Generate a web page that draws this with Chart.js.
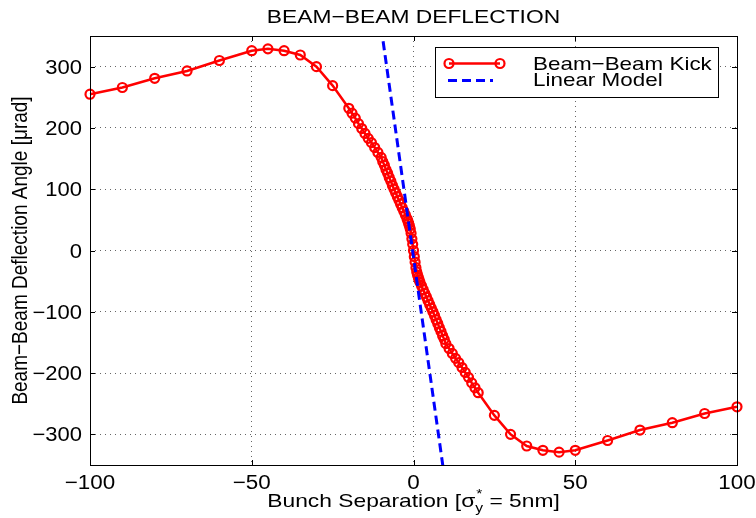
<!DOCTYPE html>
<html>
<head>
<meta charset="utf-8">
<script src="https://cdn.jsdelivr.net/npm/chart.js@4/dist/chart.umd.min.js"></script>
<style>
  html, body { margin: 0; padding: 0; background: #fff; }
</style>
</head>
<body>
<canvas id="deflexao" width="756" height="518"></canvas>
<script>
// separacao dos feixes (x) e angulo de deflexao em microrad (y)
const kickSep = [-100, -90, -80, -70, -60, -50, -45, -40, -35, -30, -25,
  -20, -19, -18, -17, -16, -15, -14, -13, -12, -11,
  -10, -9.5, -9, -8.5, -8, -7.5, -7, -6.5, -6, -5.5, -5, -4.5, -4, -3.5, -3, -2.5, -2,
  -1.75, -1.5, -1.25, -1, -0.75, -0.5, -0.25, 0, 0.25, 0.5, 0.75, 1, 1.25, 1.5, 1.75,
  2, 2.5, 3, 3.5, 4, 4.5, 5, 5.5, 6, 6.5, 7, 7.5, 8, 8.5, 9, 9.5, 10,
  11, 12, 13, 14, 15, 16, 17, 18, 19, 20,
  25, 30, 35, 40, 45, 50, 60, 70, 80, 90, 100];
const kickAngle = [255, 266, 281, 293, 310, 326, 329, 326, 319, 300, 269,
  232, 224, 216, 207, 199, 191, 183, 176, 168, 160,
  152, 145, 139, 132, 126, 119, 113, 106, 100, 94, 88, 82, 76, 70, 64, 58, 52,
  48, 44, 40, 35, 28, 19, 10, 0, -10, -19, -28, -35, -40, -44, -48,
  -52, -58, -64, -70, -76, -82, -88, -94, -100, -106, -113, -119, -126, -132, -139, -145, -152,
  -160, -168, -176, -183, -191, -199, -207, -216, -224, -232,
  -269, -300, -319, -326, -329, -326, -310, -293, -281, -266, -255];

// modelo linear
const linearSep = [-10, 10];
const linearAngle = [364, -386];

const sepTicks = [-100, -50, 0, 50, 100];
const angleTicks = [-300, -200, -100, 0, 100, 200, 300];

const titulo = 'BEAM\u2212BEAM DEFLECTION';
const legendas = ['Beam\u2212Beam Kick', 'Linear Model'];

const FONTE = '"Liberation Sans", Arial, Helvetica, sans-serif';
const ESTICA = 1.2; // texto mais largo, como no original

function pares(xs, ys) {
  return xs.map((x, i) => ({ x: x, y: ys[i] }));
}

function fmt(v) {
  return v < 0 ? '\u2212' + Math.abs(v) : String(v);
}

function texto(ctx, t, x, y, align, size, estica) {
  ctx.save();
  ctx.font = size + 'px ' + FONTE;
  ctx.translate(x, y);
  ctx.scale(estica || ESTICA, 1);
  ctx.textAlign = align;
  ctx.textBaseline = 'alphabetic';
  ctx.fillStyle = '#000';
  ctx.fillText(t, 0, 0);
  ctx.restore();
}

function largura(ctx, t, size) {
  ctx.save();
  ctx.font = size + 'px ' + FONTE;
  const w = ctx.measureText(t).width * ESTICA;
  ctx.restore();
  return w;
}

// moldura, marcas, rotulos e legenda no estilo matlab
const molduraPlugin = {
  id: 'moldura',
  afterDraw(chart) {
    const ctx = chart.ctx;
    const a = chart.chartArea;
    const xs = chart.scales.x;
    const ys = chart.scales.y;

    ctx.save();
    ctx.strokeStyle = '#000';
    ctx.lineWidth = 1;
    ctx.strokeRect(Math.round(a.left) + 0.5, Math.round(a.top) + 0.5,
      Math.round(a.right - a.left), Math.round(a.bottom - a.top));

    ctx.beginPath();
    sepTicks.forEach(v => {
      const px = Math.round(xs.getPixelForValue(v)) + 0.5;
      ctx.moveTo(px, a.bottom); ctx.lineTo(px, a.bottom - 5);
      ctx.moveTo(px, a.top); ctx.lineTo(px, a.top + 5);
    });
    angleTicks.forEach(v => {
      const py = Math.round(ys.getPixelForValue(v)) + 0.5;
      ctx.moveTo(a.left, py); ctx.lineTo(a.left + 5, py);
      ctx.moveTo(a.right, py); ctx.lineTo(a.right - 5, py);
    });
    ctx.stroke();
    ctx.restore();

    // rotulos dos eixos
    sepTicks.forEach(v => {
      texto(ctx, fmt(v), xs.getPixelForValue(v), a.bottom + 24, 'center', 20, 1.12);
    });
    angleTicks.forEach(v => {
      texto(ctx, fmt(v), a.left - 8, ys.getPixelForValue(v) + 7, 'right', 20, 1.1);
    });

    const cx = (a.left + a.right) / 2;
    texto(ctx, titulo, cx, 23, 'center', 19);

    // titulo do eixo x com sigma_y^*
    const p1 = 'Bunch Separation [\u03c3';
    const p2 = ' = 5nm]';
    const w1 = largura(ctx, p1, 19);
    const wy = largura(ctx, 'y', 13);
    const w2 = largura(ctx, p2, 19);
    let x0 = cx - (w1 + wy + w2) / 2;
    const base = 507;
    texto(ctx, p1, x0, base, 'left', 19);
    texto(ctx, 'y', x0 + w1, base + 5, 'left', 13);
    texto(ctx, '*', x0 + w1 + 1, base - 9, 'left', 13);
    texto(ctx, p2, x0 + w1 + wy, base, 'left', 19);

    // titulo do eixo y
    ctx.save();
    ctx.translate(27, (a.top + a.bottom) / 2);
    ctx.rotate(-Math.PI / 2);
    ctx.scale(1, ESTICA);
    ctx.font = '19px ' + FONTE;
    ctx.textAlign = 'center';
    ctx.fillStyle = '#000';
    ctx.fillText('Beam\u2212Beam Deflection Angle [\u03bcrad]', 0, 0);
    ctx.restore();

    // legenda
    const ds = chart.data.datasets;
    ctx.save();
    ctx.fillStyle = '#fff';
    ctx.fillRect(435, 47, 283, 50);
    ctx.strokeStyle = '#000';
    ctx.lineWidth = 1;
    ctx.strokeRect(435.5, 47.5, 283, 50);

    ctx.strokeStyle = ds[1].borderColor;
    ctx.lineWidth = ds[1].borderWidth;
    ctx.beginPath();
    ctx.moveTo(449, 63.5); ctx.lineTo(500, 63.5);
    ctx.stroke();
    ctx.lineWidth = ds[1].pointBorderWidth;
    [449, 500].forEach(px => {
      ctx.beginPath();
      ctx.arc(px, 63.5, ds[1].pointRadius, 0, Math.PI * 2);
      ctx.stroke();
    });

    ctx.strokeStyle = ds[0].borderColor;
    ctx.lineWidth = ds[0].borderWidth;
    ctx.setLineDash(ds[0].borderDash);
    ctx.beginPath();
    ctx.moveTo(448, 80.5); ctx.lineTo(493, 80.5);
    ctx.stroke();
    ctx.restore();

    texto(ctx, legendas[0], 533, 70, 'left', 19, 1.18);
    texto(ctx, legendas[1], 533, 86, 'left', 19, 1.18);
  }
};

new Chart(document.getElementById('deflexao'), {
  type: 'line',
  data: {
    datasets: [
      {
        label: legendas[1],
        data: pares(linearSep, linearAngle),
        borderColor: '#0000ff',
        borderWidth: 3,
        borderDash: [9, 5],
        pointRadius: 0,
        fill: false,
        clip: 0,
        order: 0
      },
      {
        label: legendas[0],
        data: pares(kickSep, kickAngle),
        borderColor: '#ff0000',
        borderWidth: 2.5,
        pointRadius: 4.5,
        pointBorderWidth: 2.2,
        pointBorderColor: '#ff0000',
        pointBackgroundColor: 'rgba(0,0,0,0)',
        fill: false,
        tension: 0,
        clip: false,
        order: 1
      }
    ]
  },
  options: {
    responsive: false,
    animation: false,
    layout: { padding: { left: 90, right: 19, top: 36, bottom: 53 } },
    plugins: {
      legend: { display: false },
      tooltip: { enabled: false }
    },
    scales: {
      x: {
        type: 'linear',
        min: -100,
        max: 100,
        afterBuildTicks: (axis) => { axis.ticks = sepTicks.map(v => ({ value: v })); },
        ticks: { display: false },
        grid: { color: '#666', lineWidth: 1, drawTicks: false },
        border: { display: false, dash: [1, 4] }
      },
      y: {
        type: 'linear',
        min: -350,
        max: 350,
        afterBuildTicks: (axis) => { axis.ticks = angleTicks.map(v => ({ value: v })); },
        ticks: { display: false },
        grid: { color: '#666', lineWidth: 1, drawTicks: false },
        border: { display: false, dash: [1, 4] }
      }
    }
  },
  plugins: [molduraPlugin]
});
</script>
</body>
</html>
